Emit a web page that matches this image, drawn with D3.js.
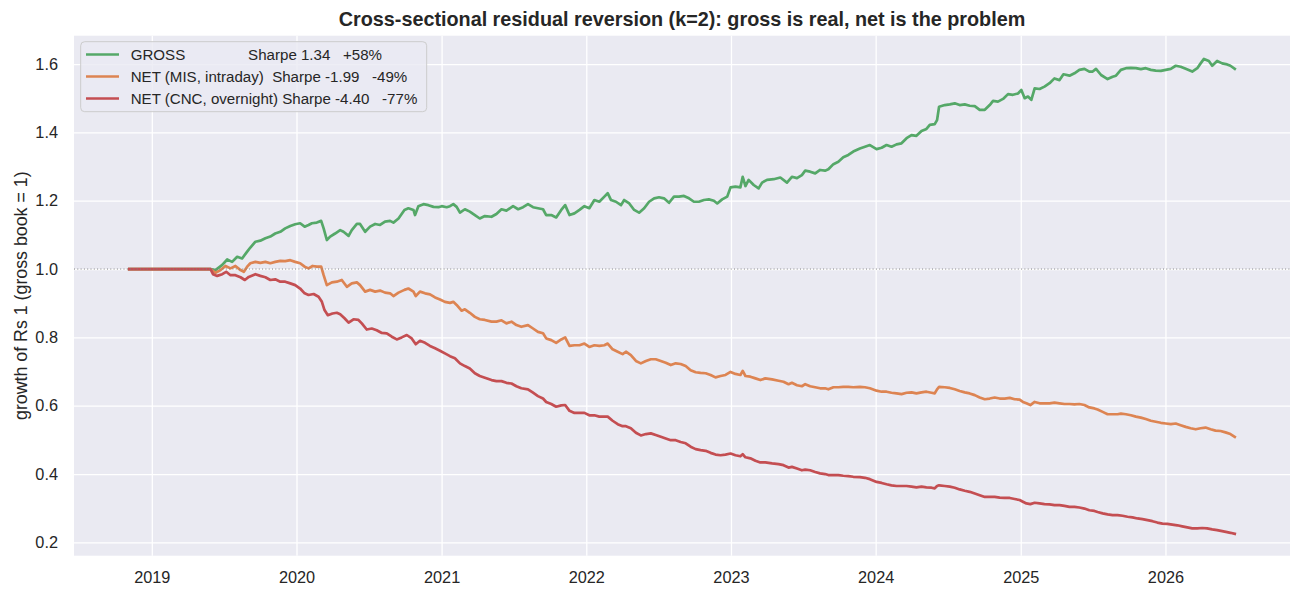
<!DOCTYPE html>
<html><head><meta charset="utf-8">
<script src="https://cdn.jsdelivr.net/npm/d3@7"></script>
<style>
body{margin:0;background:#fff;}
text{font-family:"Liberation Sans",Arial,sans-serif;fill:#262626;}
</style>
</head><body>
<svg id="chart" width="1302" height="598"></svg>
<script>
const chartTitle = "Cross-sectional residual reversion (k=2): gross is real, net is the problem";
const yLabel = "growth of Rs 1 (gross book = 1)";
const yTicks = [0.2, 0.4, 0.6, 0.8, 1.0, 1.2, 1.4, 1.6];
const xTickYears = [2019, 2020, 2021, 2022, 2023, 2024, 2025, 2026];
const yDomain = [0.161, 1.683];
const legendLabels = [
  "GROSS               Sharpe 1.34   +58%",
  "NET (MIS, intraday)  Sharpe -1.99   -49%",
  "NET (CNC, overnight) Sharpe -4.40   -77%"
];
const seriesColors = ["#55A868", "#DD8452", "#C44E52"];

// [decimal year, growth]
const grossData = [[2018.844,1.000],[2019.406,1.000],[2019.440,0.997],[2019.487,1.012],[2019.521,1.028],[2019.555,1.021],[2019.590,1.036],[2019.624,1.031],[2019.659,1.051],[2019.681,1.063],[2019.716,1.080],[2019.750,1.083],[2019.785,1.090],[2019.819,1.095],[2019.853,1.104],[2019.888,1.109],[2019.922,1.119],[2019.957,1.126],[2019.991,1.131],[2020.025,1.134],[2020.056,1.124],[2020.083,1.129],[2020.106,1.134],[2020.140,1.136],[2020.170,1.141],[2020.187,1.119],[2020.209,1.085],[2020.232,1.095],[2020.266,1.104],[2020.301,1.114],[2020.324,1.109],[2020.359,1.097],[2020.381,1.114],[2020.416,1.132],[2020.438,1.132],[2020.473,1.109],[2020.507,1.124],[2020.542,1.132],[2020.576,1.129],[2020.610,1.139],[2020.645,1.141],[2020.668,1.136],[2020.703,1.148],[2020.744,1.173],[2020.771,1.178],[2020.806,1.173],[2020.817,1.158],[2020.840,1.184],[2020.875,1.190],[2020.909,1.187],[2020.944,1.182],[2020.978,1.181],[2021.001,1.184],[2021.035,1.181],[2021.058,1.184],[2021.081,1.190],[2021.104,1.182],[2021.127,1.165],[2021.161,1.175],[2021.195,1.168],[2021.230,1.158],[2021.264,1.148],[2021.299,1.155],[2021.345,1.153],[2021.379,1.161],[2021.414,1.175],[2021.448,1.171],[2021.494,1.184],[2021.529,1.175],[2021.563,1.181],[2021.597,1.190],[2021.632,1.181],[2021.666,1.178],[2021.701,1.175],[2021.723,1.158],[2021.758,1.158],[2021.792,1.151],[2021.827,1.173],[2021.854,1.187],[2021.884,1.158],[2021.918,1.163],[2021.953,1.173],[2021.987,1.184],[2022.021,1.178],[2022.056,1.202],[2022.090,1.197],[2022.125,1.212],[2022.148,1.222],[2022.171,1.202],[2022.205,1.197],[2022.240,1.187],[2022.262,1.202],[2022.297,1.192],[2022.331,1.173],[2022.365,1.165],[2022.400,1.178],[2022.434,1.197],[2022.469,1.207],[2022.503,1.210],[2022.537,1.207],[2022.572,1.194],[2022.606,1.212],[2022.641,1.212],[2022.675,1.214],[2022.710,1.207],[2022.744,1.197],[2022.778,1.197],[2022.813,1.202],[2022.847,1.204],[2022.882,1.200],[2022.905,1.192],[2022.939,1.204],[2022.974,1.212],[2022.997,1.239],[2023.031,1.241],[2023.065,1.239],[2023.081,1.270],[2023.100,1.243],[2023.122,1.261],[2023.157,1.246],[2023.191,1.236],[2023.215,1.253],[2023.249,1.261],[2023.295,1.263],[2023.341,1.268],[2023.387,1.253],[2023.421,1.270],[2023.456,1.266],[2023.490,1.275],[2023.513,1.288],[2023.547,1.285],[2023.582,1.280],[2023.616,1.290],[2023.650,1.288],[2023.673,1.292],[2023.708,1.307],[2023.742,1.314],[2023.776,1.327],[2023.811,1.334],[2023.845,1.344],[2023.891,1.353],[2023.926,1.358],[2023.960,1.363],[2024.006,1.351],[2024.041,1.355],[2024.075,1.363],[2024.109,1.358],[2024.144,1.365],[2024.178,1.368],[2024.213,1.383],[2024.247,1.392],[2024.281,1.390],[2024.316,1.404],[2024.350,1.410],[2024.373,1.422],[2024.407,1.424],[2024.423,1.436],[2024.437,1.475],[2024.476,1.480],[2024.511,1.482],[2024.545,1.485],[2024.579,1.480],[2024.614,1.482],[2024.648,1.478],[2024.683,1.477],[2024.717,1.466],[2024.752,1.466],[2024.786,1.480],[2024.809,1.492],[2024.843,1.490],[2024.878,1.498],[2024.912,1.512],[2024.946,1.510],[2024.981,1.514],[2025.004,1.524],[2025.027,1.500],[2025.050,1.505],[2025.073,1.495],[2025.096,1.529],[2025.130,1.527],[2025.164,1.534],[2025.199,1.544],[2025.233,1.558],[2025.268,1.553],[2025.295,1.570],[2025.337,1.566],[2025.371,1.573],[2025.405,1.583],[2025.440,1.586],[2025.474,1.578],[2025.497,1.578],[2025.520,1.586],[2025.555,1.568],[2025.600,1.556],[2025.635,1.563],[2025.658,1.566],[2025.692,1.583],[2025.727,1.588],[2025.761,1.589],[2025.796,1.588],[2025.830,1.585],[2025.864,1.588],[2025.899,1.583],[2025.933,1.581],[2025.968,1.580],[2026.002,1.583],[2026.037,1.586],[2026.071,1.595],[2026.105,1.592],[2026.140,1.586],[2026.185,1.578],[2026.220,1.588],[2026.243,1.602],[2026.266,1.615],[2026.300,1.609],[2026.323,1.595],[2026.357,1.609],[2026.392,1.602],[2026.426,1.599],[2026.449,1.595],[2026.479,1.586]];

const netMisData = [[2018.844,1.000],[2019.406,1.000],[2019.440,0.989],[2019.475,0.997],[2019.509,1.009],[2019.544,1.002],[2019.578,1.009],[2019.613,0.997],[2019.636,0.992],[2019.659,1.007],[2019.681,1.017],[2019.716,1.021],[2019.750,1.018],[2019.785,1.021],[2019.819,1.017],[2019.853,1.021],[2019.888,1.024],[2019.922,1.023],[2019.957,1.026],[2019.991,1.021],[2020.025,1.017],[2020.056,1.007],[2020.083,1.002],[2020.111,1.009],[2020.140,1.007],[2020.170,1.007],[2020.187,0.982],[2020.209,0.953],[2020.244,0.961],[2020.278,0.963],[2020.312,0.968],[2020.347,0.948],[2020.381,0.958],[2020.416,0.961],[2020.438,0.953],[2020.473,0.934],[2020.507,0.939],[2020.542,0.934],[2020.576,0.937],[2020.610,0.931],[2020.645,0.929],[2020.668,0.921],[2020.703,0.931],[2020.744,0.939],[2020.771,0.943],[2020.806,0.934],[2020.822,0.921],[2020.851,0.934],[2020.886,0.929],[2020.920,0.926],[2020.955,0.917],[2020.989,0.911],[2021.023,0.904],[2021.058,0.901],[2021.081,0.904],[2021.104,0.895],[2021.138,0.878],[2021.161,0.882],[2021.195,0.872],[2021.230,0.860],[2021.264,0.853],[2021.299,0.851],[2021.345,0.846],[2021.379,0.846],[2021.414,0.850],[2021.448,0.841],[2021.483,0.846],[2021.517,0.836],[2021.551,0.831],[2021.597,0.836],[2021.632,0.826],[2021.666,0.816],[2021.701,0.812],[2021.723,0.797],[2021.758,0.792],[2021.792,0.784],[2021.827,0.794],[2021.854,0.800],[2021.884,0.775],[2021.918,0.777],[2021.953,0.777],[2021.987,0.782],[2022.021,0.772],[2022.056,0.777],[2022.090,0.775],[2022.125,0.777],[2022.148,0.782],[2022.182,0.765],[2022.217,0.758],[2022.251,0.751],[2022.274,0.758],[2022.308,0.748],[2022.343,0.731],[2022.377,0.724],[2022.412,0.731],[2022.446,0.736],[2022.480,0.736],[2022.515,0.731],[2022.549,0.726],[2022.584,0.719],[2022.618,0.724],[2022.652,0.722],[2022.687,0.716],[2022.721,0.704],[2022.756,0.698],[2022.790,0.696],[2022.825,0.695],[2022.859,0.690],[2022.893,0.683],[2022.928,0.687],[2022.962,0.690],[2022.997,0.699],[2023.031,0.693],[2023.065,0.690],[2023.081,0.702],[2023.100,0.687],[2023.134,0.685],[2023.169,0.680],[2023.203,0.675],[2023.237,0.680],[2023.284,0.677],[2023.329,0.673],[2023.363,0.670],[2023.398,0.663],[2023.421,0.667],[2023.456,0.660],[2023.490,0.657],[2023.513,0.663],[2023.547,0.657],[2023.582,0.654],[2023.616,0.651],[2023.650,0.651],[2023.673,0.648],[2023.708,0.654],[2023.742,0.654],[2023.776,0.655],[2023.811,0.655],[2023.845,0.654],[2023.891,0.655],[2023.926,0.654],[2023.960,0.651],[2024.006,0.644],[2024.041,0.641],[2024.075,0.641],[2024.109,0.638],[2024.144,0.636],[2024.178,0.634],[2024.213,0.638],[2024.247,0.639],[2024.281,0.636],[2024.316,0.639],[2024.350,0.641],[2024.385,0.638],[2024.407,0.636],[2024.423,0.648],[2024.437,0.655],[2024.476,0.654],[2024.511,0.652],[2024.545,0.648],[2024.579,0.643],[2024.614,0.639],[2024.648,0.636],[2024.683,0.631],[2024.717,0.624],[2024.752,0.619],[2024.786,0.621],[2024.820,0.624],[2024.855,0.621],[2024.889,0.621],[2024.924,0.623],[2024.958,0.619],[2024.992,0.618],[2025.015,0.611],[2025.039,0.607],[2025.066,0.602],[2025.096,0.611],[2025.130,0.607],[2025.164,0.607],[2025.199,0.607],[2025.233,0.609],[2025.268,0.607],[2025.302,0.605],[2025.337,0.605],[2025.371,0.604],[2025.405,0.605],[2025.440,0.602],[2025.474,0.595],[2025.509,0.592],[2025.531,0.589],[2025.566,0.582],[2025.600,0.575],[2025.635,0.575],[2025.669,0.575],[2025.692,0.577],[2025.727,0.575],[2025.761,0.572],[2025.796,0.568],[2025.830,0.565],[2025.864,0.561],[2025.899,0.556],[2025.933,0.553],[2025.968,0.550],[2026.002,0.548],[2026.037,0.546],[2026.071,0.548],[2026.105,0.543],[2026.140,0.538],[2026.174,0.534],[2026.209,0.531],[2026.243,0.534],[2026.277,0.536],[2026.312,0.531],[2026.346,0.527],[2026.381,0.526],[2026.415,0.522],[2026.449,0.517],[2026.479,0.509]];

const netCncData = [[2018.844,1.000],[2019.406,1.000],[2019.423,0.985],[2019.452,0.980],[2019.487,0.985],[2019.514,0.992],[2019.544,0.982],[2019.578,0.982],[2019.613,0.976],[2019.643,0.968],[2019.670,0.977],[2019.716,0.985],[2019.750,0.980],[2019.785,0.976],[2019.819,0.968],[2019.853,0.970],[2019.888,0.963],[2019.922,0.963],[2019.957,0.958],[2019.991,0.953],[2020.025,0.943],[2020.056,0.929],[2020.083,0.924],[2020.118,0.927],[2020.152,0.919],[2020.175,0.904],[2020.193,0.880],[2020.216,0.865],[2020.248,0.870],[2020.278,0.872],[2020.301,0.868],[2020.331,0.856],[2020.359,0.843],[2020.393,0.853],[2020.427,0.851],[2020.450,0.841],[2020.484,0.823],[2020.519,0.826],[2020.553,0.821],[2020.588,0.813],[2020.622,0.812],[2020.657,0.802],[2020.691,0.794],[2020.725,0.800],[2020.760,0.807],[2020.794,0.797],[2020.822,0.780],[2020.851,0.790],[2020.886,0.784],[2020.920,0.775],[2020.955,0.768],[2020.989,0.761],[2021.023,0.753],[2021.058,0.745],[2021.092,0.739],[2021.127,0.724],[2021.161,0.716],[2021.195,0.709],[2021.230,0.695],[2021.264,0.687],[2021.299,0.682],[2021.345,0.675],[2021.379,0.672],[2021.414,0.672],[2021.448,0.667],[2021.483,0.665],[2021.517,0.657],[2021.551,0.651],[2021.597,0.648],[2021.632,0.638],[2021.666,0.628],[2021.701,0.621],[2021.723,0.611],[2021.758,0.605],[2021.792,0.597],[2021.827,0.601],[2021.854,0.602],[2021.884,0.585],[2021.918,0.579],[2021.953,0.579],[2021.987,0.579],[2022.021,0.572],[2022.056,0.572],[2022.090,0.568],[2022.125,0.568],[2022.148,0.568],[2022.182,0.556],[2022.217,0.546],[2022.251,0.540],[2022.274,0.540],[2022.308,0.534],[2022.343,0.521],[2022.377,0.513],[2022.412,0.517],[2022.446,0.519],[2022.480,0.514],[2022.515,0.509],[2022.549,0.504],[2022.584,0.499],[2022.618,0.499],[2022.652,0.494],[2022.687,0.490],[2022.721,0.480],[2022.756,0.473],[2022.790,0.470],[2022.825,0.468],[2022.859,0.462],[2022.893,0.457],[2022.928,0.455],[2022.962,0.457],[2022.997,0.460],[2023.031,0.455],[2023.065,0.452],[2023.081,0.458],[2023.100,0.449],[2023.134,0.446],[2023.169,0.439],[2023.203,0.434],[2023.237,0.434],[2023.284,0.431],[2023.329,0.429],[2023.363,0.426],[2023.398,0.419],[2023.421,0.421],[2023.456,0.416],[2023.490,0.411],[2023.513,0.413],[2023.547,0.411],[2023.582,0.406],[2023.616,0.402],[2023.650,0.400],[2023.673,0.397],[2023.708,0.397],[2023.742,0.397],[2023.776,0.395],[2023.811,0.394],[2023.845,0.392],[2023.891,0.391],[2023.926,0.389],[2023.960,0.385],[2024.006,0.377],[2024.041,0.374],[2024.075,0.370],[2024.109,0.367],[2024.144,0.365],[2024.178,0.365],[2024.213,0.365],[2024.247,0.363],[2024.281,0.361],[2024.316,0.363],[2024.350,0.361],[2024.385,0.360],[2024.407,0.358],[2024.423,0.365],[2024.437,0.367],[2024.476,0.365],[2024.511,0.363],[2024.545,0.360],[2024.579,0.355],[2024.614,0.351],[2024.648,0.348],[2024.683,0.343],[2024.717,0.338],[2024.752,0.333],[2024.786,0.333],[2024.820,0.333],[2024.855,0.331],[2024.889,0.330],[2024.924,0.330],[2024.958,0.327],[2024.992,0.324],[2025.015,0.319],[2025.039,0.314],[2025.066,0.312],[2025.096,0.316],[2025.130,0.314],[2025.164,0.312],[2025.199,0.311],[2025.233,0.309],[2025.268,0.309],[2025.302,0.307],[2025.337,0.304],[2025.371,0.304],[2025.405,0.302],[2025.440,0.299],[2025.474,0.294],[2025.509,0.292],[2025.531,0.289],[2025.566,0.285],[2025.600,0.282],[2025.635,0.280],[2025.669,0.280],[2025.703,0.278],[2025.738,0.275],[2025.772,0.273],[2025.807,0.270],[2025.841,0.268],[2025.876,0.265],[2025.910,0.262],[2025.944,0.258],[2025.979,0.255],[2026.013,0.254],[2026.047,0.252],[2026.082,0.250],[2026.116,0.247],[2026.151,0.244],[2026.185,0.241],[2026.220,0.241],[2026.254,0.242],[2026.288,0.241],[2026.323,0.238],[2026.357,0.236],[2026.392,0.233],[2026.426,0.230],[2026.449,0.228],[2026.479,0.225]];

const allSeries = [grossData, netMisData, netCncData];

function yearToDate(y){
  const yr = Math.floor(y);
  const s = Date.UTC(yr,0,1), e = Date.UTC(yr+1,0,1);
  return new Date(s + (y - yr) * (e - s));
}

const svg = d3.select("#chart");
const margin = {left:74, top:35.7, right:1290, bottom:555.7};
const W = margin.right - margin.left, H = margin.bottom - margin.top;
const FONT = '"Liberation Sans",Arial,sans-serif';

const allYears = allSeries.flat().map(d => d[0]);
const xMin = d3.min(allYears), xMax = d3.max(allYears), span = xMax - xMin;
const x = d3.scaleUtc().domain([yearToDate(xMin - 0.05*span), yearToDate(xMax + 0.05*span)]).range([margin.left, margin.right]);
const y = d3.scaleLinear().domain(yDomain).range([margin.bottom, margin.top]);

svg.append("rect").attr("x",margin.left).attr("y",margin.top).attr("width",W).attr("height",H).attr("fill","#EAEAF2");

const tickDates = xTickYears.map(yr => new Date(Date.UTC(yr,0,1)));

// grid
const gx = svg.append("g").attr("transform",`translate(0,${margin.bottom})`)
  .call(d3.axisBottom(x).tickValues(tickDates).tickSize(-H).tickFormat(""));
gx.select(".domain").remove();
gx.selectAll("line").attr("stroke","#fff").attr("stroke-width",1.3);
const gy = svg.append("g").attr("transform",`translate(${margin.left},0)`)
  .call(d3.axisLeft(y).tickValues(yTicks).tickSize(-W).tickFormat(""));
gy.select(".domain").remove();
gy.selectAll("line").attr("stroke","#fff").attr("stroke-width",1.3);

// tick labels
const ax = svg.append("g").attr("transform",`translate(0,${margin.bottom})`)
  .call(d3.axisBottom(x).tickValues(tickDates).tickSize(0).tickPadding(16).tickFormat(d3.utcFormat("%Y")));
ax.select(".domain").remove();
ax.selectAll("text").attr("font-size",16.3).attr("font-family",FONT).attr("fill","#262626");
const ay = svg.append("g").attr("transform",`translate(${margin.left},0)`)
  .call(d3.axisLeft(y).tickValues(yTicks).tickSize(0).tickPadding(16).tickFormat(d3.format(".1f")));
ay.select(".domain").remove();
ay.selectAll("text").attr("font-size",16.3).attr("font-family",FONT).attr("fill","#262626");

// clip
svg.append("clipPath").attr("id","clip").append("rect").attr("x",margin.left).attr("y",margin.top).attr("width",W).attr("height",H);

const line = d3.line().x(d => x(yearToDate(d[0]))).y(d => y(d[1]));
const plotG = svg.append("g").attr("clip-path","url(#clip)");
allSeries.forEach((s,i) => {
  plotG.append("path").datum(s).attr("d",line).attr("fill","none")
    .attr("stroke",seriesColors[i]).attr("stroke-width",2.7).attr("stroke-linejoin","round").attr("stroke-linecap","square");
});
// reference line at 1
plotG.append("line").attr("x1",margin.left).attr("x2",margin.right).attr("y1",y(1)).attr("y2",y(1))
  .attr("stroke","#808080").attr("stroke-width",1).attr("stroke-dasharray","1,2.3");

// title
svg.append("text").attr("x",(margin.left+margin.right)/2).attr("y",26).attr("text-anchor","middle")
  .attr("font-size",19.8).attr("font-weight","bold").text(chartTitle);
// y label
svg.append("text").attr("transform",`translate(27,${(margin.top+margin.bottom)/2}) rotate(-90)`)
  .attr("text-anchor","middle").attr("font-size",17.8).text(yLabel);

// legend
const lg = svg.append("g");
lg.append("rect").attr("x",80.7).attr("y",41.7).attr("width",346).attr("height",70).attr("rx",4)
  .attr("fill","#EAEAF2").attr("fill-opacity",0.8).attr("stroke","#cccccc").attr("stroke-width",1);
legendLabels.forEach((lab,i) => {
  const cy = 54.5 + i*22;
  lg.append("line").attr("x1",86).attr("x2",119).attr("y1",cy).attr("y2",cy)
    .attr("stroke",seriesColors[i]).attr("stroke-width",2.7);
  lg.append("text").attr("x",130.7).attr("y",cy).attr("dy","0.35em").attr("font-size",15.1)
    .attr("xml:space","preserve").style("white-space","pre").text(lab);
});
</script>
</body></html>
